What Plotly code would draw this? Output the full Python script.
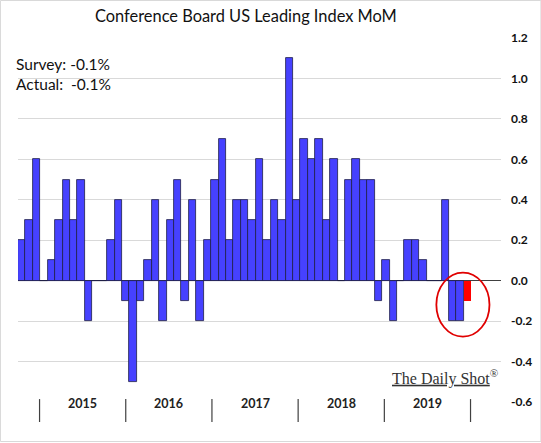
import plotly.graph_objects as go

# Monthly values, Oct 2014 .. Oct 2019 (% MoM)
values = [0.2, 0.3, 0.6,
          0.0, 0.1, 0.3, 0.5, 0.3, 0.5, -0.2, 0.0, 0.0, 0.2, 0.4, -0.1,
          -0.5, -0.1, 0.1, 0.4, -0.2, 0.3, 0.5, -0.1, 0.4, -0.2, 0.2, 0.5,
          0.7, 0.2, 0.4, 0.4, 0.3, 0.6, 0.2, 0.4, 0.3, 1.1, 0.4, 0.7,
          0.6, 0.7, 0.3, 0.6, 0.0, 0.5, 0.6, 0.5, 0.5, -0.1, 0.1, -0.2,
          0.0, 0.2, 0.2, 0.1, 0.0, 0.0, 0.4, -0.2, -0.2, -0.1]
years = ["2015", "2016", "2017", "2018", "2019"]
y_ticks = [1.2, 1.0, 0.8, 0.6, 0.4, 0.2, 0.0, -0.2, -0.4, -0.6]
survey_text = "Survey: -0.1%"
actual_text = "Actual:  -0.1%"
title_text = "Conference Board US Leading Index MoM"

n = len(values)
idx = list(range(n))
colors = ["#4641FF"] * (n - 1) + ["#FF0000"]
line_w = [0.8] * (n - 1) + [0]

fig = go.Figure()
fig.add_trace(go.Bar(
    x=idx, y=values, width=1,
    marker=dict(color=colors, line=dict(color="#1E1E46", width=line_w)),
    showlegend=False, hoverinfo="x+y",
))

FONT = "Lato"
shapes = []
annotations = []

# year separators and labels (bottom band)
sep_start, sep_step = 2.4, 11.6
for k in range(len(years) + 1):
    xs = sep_start + k * sep_step
    shapes.append(dict(type="line", xref="x", yref="paper", x0=xs, x1=xs,
                       y0=0.008, y1=-0.055, line=dict(color="#404040", width=1.2)))
for k, yr in enumerate(years):
    annotations.append(dict(text="<b>%s</b>" % yr, xref="x", yref="paper",
                            x=sep_start + (k + 0.5) * sep_step, y=-0.031,
                            showarrow=False, font=dict(family=FONT, size=12.5, color="#222222")))

# highlight ellipse around latest bars
last = n - 1
shapes.append(dict(type="circle", xref="x", yref="y",
                   x0=last - 4.2, x1=last + 2.95, y0=-0.277, y1=0.04,
                   line=dict(color="#E00000", width=1.8)))

# outer light frame
shapes.append(dict(type="rect", xref="paper", yref="paper", x0=-0.0363, x1=1.0826,
                   y0=-0.1085, y1=1.103, line=dict(color="#D9D9D9", width=1), layer="below"))

annotations += [
    dict(text=title_text, xref="paper", yref="paper", x=0.472, y=1.063, xanchor="center",
         yanchor="middle", showarrow=False, font=dict(family=FONT, size=16.4, color="#111111")),
    dict(text=survey_text, xref="paper", yref="paper", x=-0.0085, y=0.928, xanchor="left",
         yanchor="middle", showarrow=False, font=dict(family=FONT, size=15.5, color="#111111")),
    dict(text=actual_text, xref="paper", yref="paper", x=-0.0085, y=0.873, xanchor="left",
         yanchor="middle", showarrow=False, font=dict(family=FONT, size=15.5, color="#111111")),
    dict(text="<u>The Daily Shot</u><sup>®</sup>", xref="paper", yref="paper", x=1.0, y=0.066,
         xanchor="right", yanchor="middle", showarrow=False,
         font=dict(family="Liberation Serif", size=16, color="#333333")),
]

fig.update_layout(
    width=541, height=443,
    margin=dict(l=18, r=40, t=38, b=41),
    paper_bgcolor="white", plot_bgcolor="white",
    bargap=0,
    shapes=shapes, annotations=annotations,
    xaxis=dict(range=[-0.5, 64.5], showticklabels=False, showgrid=False, zeroline=False,
               ticks="", fixedrange=True),
    yaxis=dict(range=[-0.6, 1.2], side="right", tickvals=y_ticks,
               ticktext=["<b>%.1f</b>" % v for v in y_ticks],
               tickfont=dict(family=FONT, size=12, color="#111111"),
               showgrid=True, gridcolor="#D9D9D9", gridwidth=1,
               zeroline=True, zerolinecolor="#404040", zerolinewidth=1,
               ticks="", ticklabelstandoff=9, fixedrange=True, automargin=False),
)

fig.write_html("out.html", config={"displayModeBar": False},
               post_script="document.body.style.margin='0';document.body.style.overflow='hidden';")
